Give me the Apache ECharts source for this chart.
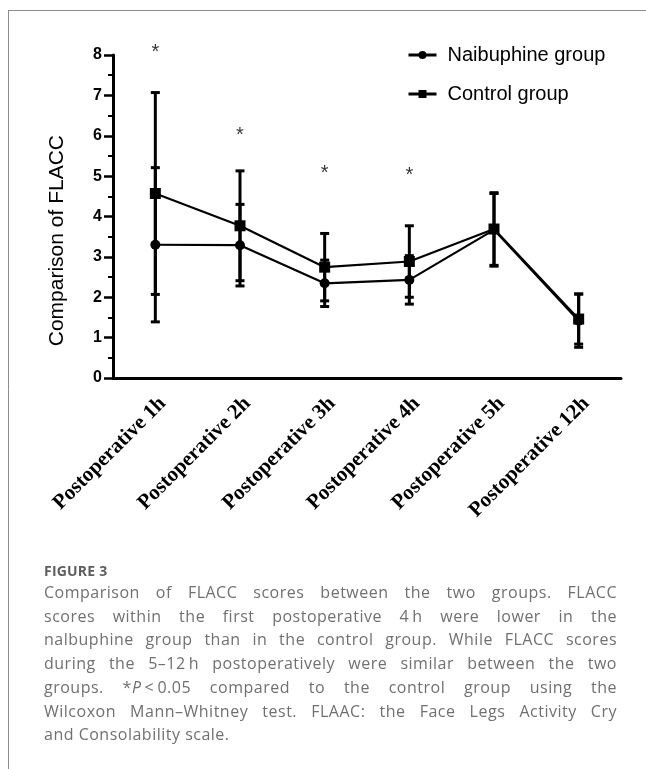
<!DOCTYPE html>
<html>
<head>
<meta charset="utf-8">
<script src="https://cdn.jsdelivr.net/npm/echarts@6/dist/echarts.min.js"></script>
<style>
  html, body { margin:0; padding:0; background:#fff; }
  #wrap { position:relative; width:646px; height:769px; overflow:hidden; }
  #chart { position:absolute; left:0; top:0; width:646px; height:769px; }
  #cap { position:absolute; left:44px; top:561px; width:573px; font-family:"Open Sans", sans-serif; color:#707070; }
  #cap .fig { font-weight:bold; font-size:14px; color:#5e5e5e; line-height:20px; letter-spacing:0.2px; }
  #cap .ln { font-size:16px; letter-spacing:0.5px; line-height:23.7px; text-align:justify; text-align-last:justify; white-space:nowrap; }
  #cap .ln.last { text-align-last:left; }
</style>
</head>
<body>
<div id="wrap">
  <div id="chart"></div>
  <div id="cap">
    <div class="fig">FIGURE 3</div>
    <div class="ln">Comparison of FLACC scores between the two groups. FLACC</div>
    <div class="ln">scores within the first postoperative 4&#8201;h were lower in the</div>
    <div class="ln">nalbuphine group than in the control group. While FLACC scores</div>
    <div class="ln">during the 5–12&#8201;h postoperatively were similar between the two</div>
    <div class="ln">groups. *<i>P</i>&#8201;&lt;&#8201;0.05 compared to the control group using the</div>
    <div class="ln">Wilcoxon Mann–Whitney test. FLAAC: the Face Legs Activity Cry</div>
    <div class="ln last">and Consolability scale.</div>
  </div>
</div>
<script>
var categories = ['Postoperative 1h', 'Postoperative 2h', 'Postoperative 3h', 'Postoperative 4h', 'Postoperative 5h', 'Postoperative 12h'];
var nalMean = [3.30, 3.29, 2.345, 2.43, 3.67, 1.42];
var nalSD   = [1.91, 1.01, 0.575, 0.60, 0.90, 0.66];
var ctrlMean = [4.57, 3.77, 2.745, 2.885, 3.69, 1.46];
var ctrlSD   = [2.50, 1.36, 0.835, 0.885, 0.90, 0.62];
var starY = [8.15, 6.10, 5.17, 5.11, null, null];
var yTicks = [0, 1, 2, 3, 4, 5, 6, 7, 8];

function errData(mean, sd) {
  return mean.map(function (m, i) { return [i, m - sd[i], m + sd[i]]; });
}
function errRender(params, api) {
  var i = api.value(0);
  var lo = api.coord([i, api.value(1)]);
  var hi = api.coord([i, api.value(2)]);
  var hw = 4.5;
  var st = { stroke: '#000', lineWidth: 3 };
  return {
    type: 'group',
    children: [
      { type: 'line', shape: { x1: lo[0], y1: lo[1], x2: hi[0], y2: hi[1] }, style: st },
      { type: 'line', shape: { x1: hi[0] - hw, y1: hi[1], x2: hi[0] + hw, y2: hi[1] }, style: st },
      { type: 'line', shape: { x1: lo[0] - hw, y1: lo[1], x2: lo[0] + hw, y2: lo[1] }, style: st }
    ]
  };
}

var chart = echarts.init(document.getElementById('chart'), null, { renderer: 'canvas' });
chart.setOption({
  animation: false,
  backgroundColor: '#fff',
  grid: { left: 113, right: 25, top: 55, bottom: 391, containLabel: false },
  legend: {
    data: ['Naibuphine group', 'Control group'],
    orient: 'vertical',
    left: 402,
    top: 40,
    itemWidth: 28,
    itemHeight: 10,
    itemGap: 19,
    textStyle: { fontFamily: 'Liberation Sans', fontSize: 20, color: '#000', padding: [0, 0, 0, 6] },
    lineStyle: { width: 3 }
  },
  xAxis: {
    type: 'category',
    data: categories,
    boundaryGap: true,
    axisLine: { lineStyle: { color: '#000', width: 3 } },
    axisTick: { alignWithLabel: true, length: 7, lineStyle: { color: '#000', width: 2.5 } },
    axisLabel: { rotate: 45, margin: 15, verticalAlign: 'top', fontFamily: 'Liberation Serif', fontWeight: 'bold', fontSize: 21, color: '#000', interval: 0 },
    splitLine: { show: false }
  },
  yAxis: {
    type: 'value',
    min: 0, max: 8, interval: 1,
    axisLine: { show: true, lineStyle: { color: '#000', width: 3 } },
    axisTick: { show: true, length: 9, lineStyle: { color: '#000', width: 2.5 } },
    minorTick: { show: true, splitNumber: 2, length: 5, lineStyle: { color: '#000', width: 2 } },
    axisLabel: { margin: 11, fontFamily: 'Liberation Sans', fontWeight: 'bold', fontSize: 16, color: '#000',
      formatter: function (v) { return yTicks.indexOf(v) >= 0 ? String(v) : ''; } },
    splitLine: { show: false }
  },
  graphic: [
    { type: 'line', shape: { x1: 8, y1: 10.5, x2: 646, y2: 10.5 }, style: { stroke: '#8c8c8c', lineWidth: 1 }, silent: true },
    { type: 'line', shape: { x1: 8.5, y1: 10.5, x2: 8.5, y2: 769 }, style: { stroke: '#8c8c8c', lineWidth: 1 }, silent: true },
    { type: 'text', left: 47, top: 135, rotation: Math.PI / 2, silent: true,
      style: { text: 'Comparison of FLACC', font: '21px "Liberation Sans"', fill: '#000' } }
  ],
  series: [
    { name: 'nalErr', type: 'custom', renderItem: errRender, data: errData(nalMean, nalSD), encode: { x: 0, y: [1, 2] }, z: 1, silent: true },
    { name: 'ctrlErr', type: 'custom', renderItem: errRender, data: errData(ctrlMean, ctrlSD), encode: { x: 0, y: [1, 2] }, z: 1, silent: true },
    { name: 'Naibuphine group', type: 'line', data: nalMean, symbol: 'circle', symbolSize: 10,
      itemStyle: { color: '#000' }, lineStyle: { color: '#000', width: 2.2 }, z: 3 },
    { name: 'Control group', type: 'line', data: ctrlMean, symbol: 'rect', symbolSize: 11,
      itemStyle: { color: '#000' }, lineStyle: { color: '#000', width: 2.2 }, z: 3 },
    { name: 'stars', type: 'scatter', data: starY, symbolSize: 1, clip: false, itemStyle: { color: 'rgba(0,0,0,0)' }, silent: true,
      label: { show: true, position: 'inside', offset: [0, 4], formatter: '*', fontFamily: 'Liberation Sans', fontSize: 20, color: '#000' } }
  ]
});
</script>
</body>
</html>
